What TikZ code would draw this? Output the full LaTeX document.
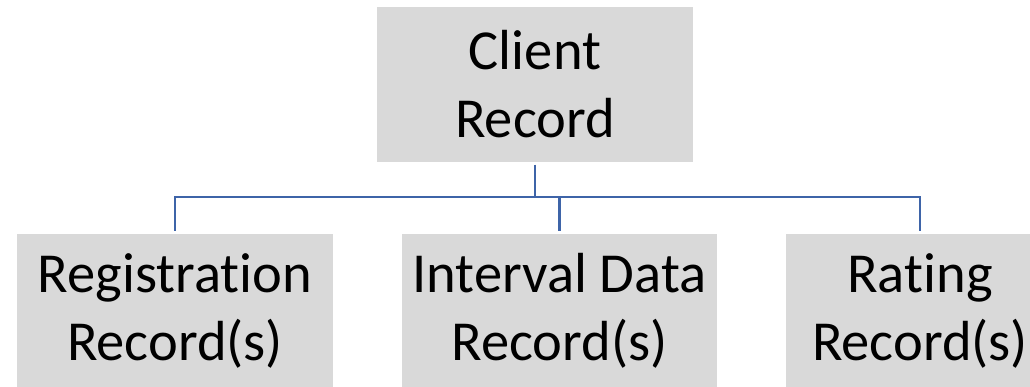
\documentclass[tikz,border=0pt]{standalone}
\usepackage{fontspec}
\setmainfont[Ligatures=NoCommon]{Carlito}
\definecolor{boxgray}{RGB}{217,217,217}
\definecolor{connblue}{RGB}{62,100,168}
\tikzset{
  recbox/.style={fill=boxgray, draw=none, minimum height=155pt, inner sep=0pt, outer sep=3pt,
    align=center, font=\fontsize{56.5}{68}\selectfont, text=black},
  conn/.style={draw=connblue, line width=2.6pt}
}
\begin{document}
\begin{tikzpicture}[x=1pt,y=-1pt]
\clip (0,0) rectangle (1030,386);
\fill[white] (0,0) rectangle (1030,386);
\node[recbox, minimum width=316pt] (top) at (535,84) {Client\\Record};
\node[recbox, minimum width=316pt] (left) at (175,311) {Registration\\Record(s)};
\node[recbox, minimum width=315pt] (mid) at (559.5,311) {Interval Data\\Record(s)};
\node[recbox, minimum width=268pt] (right) at (920,311) {Rating\\Record(s)};
\coordinate (j) at (535,197);
\draw[conn] (top.south) -- (top.south |- j);
\draw[conn] (left.north) -- (left.north |- j) -- (right.north |- j) -- (right.north);
\draw[conn] (mid.north) -- (mid.north |- j);
\end{tikzpicture}
\end{document}
